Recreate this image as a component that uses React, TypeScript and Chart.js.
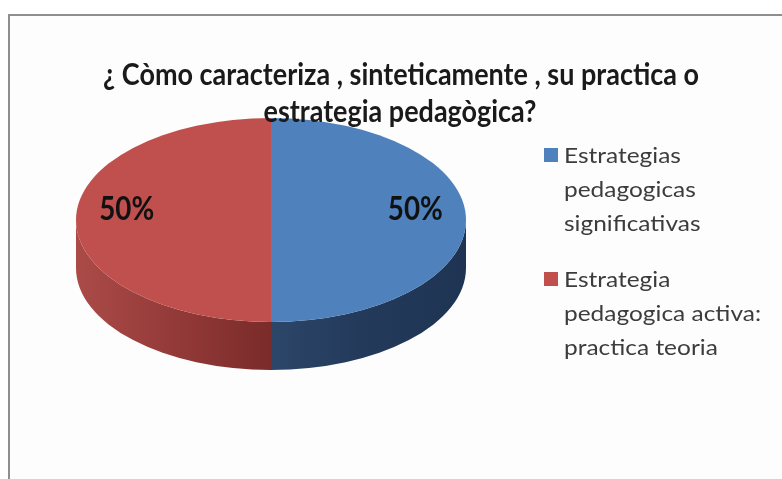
import React, { useEffect, useRef } from "react";
import { Chart, registerables } from "chart.js";

Chart.register(...registerables);

// ---- data ----
const categories: string[] = [
  "Estrategias pedagogicas significativas",
  "Estrategia pedagogica activa: practica teoria",
];
const legendLines: string[][] = [
  ["Estrategias", "pedagogicas", "significativas"],
  ["Estrategia", "pedagogica activa:", "practica teoria"],
];
const values: number[] = [50, 50];
const titleLines: string[] = [
  "¿ Còmo caracteriza , sinteticamente , su practica o",
  "estrategia pedagògica?",
];
const topColors: string[] = ["#4F81BD", "#C0504D"];
const sideStops: string[][] = [
  ["#2c4669", "#233a5b", "#1f3453"],
  ["#ab4b48", "#963c3a", "#7a2b2a"],
];

// ---- style constants ----
const FONT = "Lato, 'Open Sans', 'DejaVu Sans', sans-serif";
const TILT = 102 / 195;
const DEPTH = 48;

function drawFitted(
  ctx: CanvasRenderingContext2D,
  text: string,
  x: number,
  y: number,
  sx: number,
  align: CanvasTextAlign
) {
  ctx.save();
  ctx.translate(x, y);
  ctx.scale(sx, 1);
  ctx.textAlign = align;
  ctx.textBaseline = "alphabetic";
  ctx.fillText(text, 0, 0);
  ctx.restore();
}

const pie3d = {
  id: "pie3d",
  beforeDraw(chart: any) {
    const ctx: CanvasRenderingContext2D = chart.ctx;
    const w = chart.width;
    const h = chart.height;
    ctx.save();
    ctx.fillStyle = "#ffffff";
    ctx.fillRect(0, 0, w, h);
    ctx.fillStyle = "#fdfdfd";
    ctx.fillRect(10, 16, w - 10, h - 16);
    ctx.strokeStyle = "#8e8e8e";
    ctx.lineWidth = 2;
    ctx.beginPath();
    ctx.moveTo(9, h);
    ctx.lineTo(9, 15);
    ctx.lineTo(w, 15);
    ctx.stroke();
    ctx.restore();
  },
  beforeDatasetsDraw(chart: any) {
    const ctx: CanvasRenderingContext2D = chart.ctx;
    const meta = chart.getDatasetMeta(0);
    const arcs = meta.data;
    if (!arcs.length) return;
    const p0 = arcs[0].getProps(["x", "y", "outerRadius"], true);
    const cx = p0.x, cy = p0.y, r = p0.outerRadius;
    const ry = r * TILT;
    arcs.forEach((arc: any, i: number) => {
      const { startAngle, endAngle } = arc.getProps(["startAngle", "endAngle"], true);
      for (const off of [-2 * Math.PI, 0, 2 * Math.PI]) {
        const s = Math.max(startAngle, off);
        const e = Math.min(endAngle, off + Math.PI);
        if (e <= s) continue;
        const a0 = s - off, a1 = e - off;
        const x0 = cx + r * Math.cos(a0);
        const x1 = cx + r * Math.cos(a1);
        const g = ctx.createLinearGradient(Math.min(x0, x1), 0, Math.max(x0, x1), 0);
        const st = sideStops[i % sideStops.length];
        g.addColorStop(0, st[0]);
        g.addColorStop(0.45, st[1]);
        g.addColorStop(1, st[2]);
        ctx.save();
        ctx.beginPath();
        ctx.ellipse(cx, cy, r, ry, 0, a0, a1, false);
        ctx.lineTo(cx + r * Math.cos(a1), cy + ry * Math.sin(a1) + DEPTH);
        ctx.ellipse(cx, cy + DEPTH, r, ry, 0, a1, a0, true);
        ctx.closePath();
        ctx.fillStyle = g;
        ctx.fill();
        ctx.restore();
      }
    });
    ctx.save();
    ctx.translate(cx, cy);
    ctx.scale(1, TILT);
    ctx.translate(-cx, -cy);
  },
  afterDatasetsDraw(chart: any) {
    const ctx: CanvasRenderingContext2D = chart.ctx;
    ctx.restore();
    const meta = chart.getDatasetMeta(0);
    const arcs = meta.data;
    if (!arcs.length) return;
    const total = values.reduce((a, b) => a + b, 0);
    ctx.save();
    ctx.fillStyle = "#111111";
    ctx.font = `bold 32px ${FONT}`;
    arcs.forEach((arc: any, i: number) => {
      const p = arc.getProps(["x", "y", "outerRadius", "startAngle", "endAngle"], true);
      const mid = (p.startAngle + p.endAngle) / 2;
      const lx = p.x + Math.cos(mid) * p.outerRadius * 0.74;
      const ly = p.y + Math.sin(mid) * p.outerRadius * TILT * 0.74;
      const txt = Math.round((values[i] / total) * 100) + "%";
      const w = ctx.measureText(txt).width;
      drawFitted(ctx, txt, lx, ly, 55 / w, "center");
    });
    ctx.restore();
  },
  afterDraw(chart: any) {
    const ctx: CanvasRenderingContext2D = chart.ctx;
    // title
    ctx.save();
    ctx.fillStyle = "#1a1a1a";
    ctx.font = `bold 31px ${FONT}`;
    const tsx = 596 / ctx.measureText(titleLines[0]).width;
    drawFitted(ctx, titleLines[0], 401, 85, tsx, "center");
    drawFitted(ctx, titleLines[1], 400, 122, tsx, "center");
    ctx.restore();
    // legend
    ctx.save();
    ctx.font = `22px ${FONT}`;
    const lsx = 197 / ctx.measureText(legendLines[1][1]).width;
    const blockTop = [148, 272];
    legendLines.forEach((lines, i) => {
      ctx.fillStyle = topColors[i];
      ctx.fillRect(544, blockTop[i], 14, 14);
      ctx.fillStyle = "#3c3c3c";
      lines.forEach((ln, j) => {
        drawFitted(ctx, ln, 564, blockTop[i] + 15 + j * 34, lsx, "left");
      });
    });
    ctx.restore();
  },
};

export default function App() {
  const ref = useRef<HTMLCanvasElement>(null);
  useEffect(() => {
    const chart = new Chart(ref.current as HTMLCanvasElement, {
      type: "pie",
      data: {
        labels: categories,
        datasets: [
          {
            data: values,
            backgroundColor: topColors,
            borderWidth: 0,
          },
        ],
      },
      options: {
        responsive: false,
        animation: false,
        layout: { padding: { left: 76, right: 316, top: 25, bottom: 64 } },
        plugins: {
          legend: { display: false },
          title: { display: false },
          tooltip: { enabled: false },
        },
      },
      plugins: [pie3d as any],
    });
    return () => chart.destroy();
  }, []);
  return (
    <div style={{ position: "fixed", left: 0, top: 0, width: 782, height: 479, background: "#fff" }}>
      <canvas ref={ref} width={782} height={479} style={{ display: "block", width: 782, height: 479 }} />
    </div>
  );
}
